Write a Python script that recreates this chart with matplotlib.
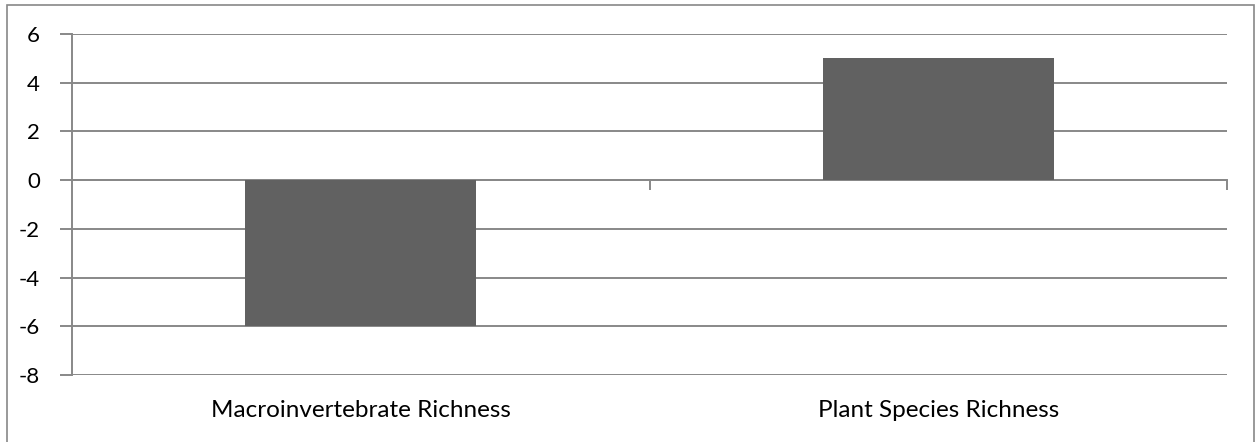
import matplotlib.pyplot as plt
from matplotlib.patches import Rectangle

categories = ['Macroinvertebrate Richness', 'Plant Species Richness']
values = [-6, 5]
yticks = [-8, -6, -4, -2, 0, 2, 4, 6]

plt.rcParams['font.family'] = ['Lato', 'DejaVu Sans']

fig = plt.figure(figsize=(12.55, 4.42), dpi=100)
ax = fig.add_axes([72 / 1255, 1 - 375 / 442, (1227 - 72) / 1255, (375 - 34) / 442])

grid_col = '#888888'
x = list(range(len(categories)))
ax.bar(x, values, width=0.4, color='#616161', zorder=3)

ax.set_xlim(-0.5, len(categories) - 0.5)
ax.set_ylim(-8, 6)
ax.set_yticks(yticks)
ax.set_yticklabels([str(v) for v in yticks], fontsize=16)
for v in yticks:
    ax.axhline(v, color=grid_col, lw=1.4, zorder=1)

# category axis crosses at zero
for s in ['top', 'right']:
    ax.spines[s].set_visible(False)
ax.spines['bottom'].set_position(('data', 0))
ax.spines['bottom'].set_color(grid_col)
ax.spines['bottom'].set_linewidth(1.4)
ax.spines['left'].set_color(grid_col)
ax.spines['left'].set_linewidth(1.4)
ax.set_xticks([i + 0.5 for i in x])
ax.set_xticklabels([])
ax.tick_params(axis='x', length=7, width=1.4, color=grid_col, direction='out')
ax.tick_params(axis='y', length=9, width=1.4, color=grid_col, pad=14)

for i, c in zip(x, categories):
    ax.text(i, -0.103, c, transform=ax.get_xaxis_transform(),
            ha='center', va='center', fontsize=17.5)

fig.patches.append(Rectangle((7 / 1255, -0.1), 1 - 8 / 1255, 1.1 - 5 / 442,
                             transform=fig.transFigure, fill=False,
                             edgecolor=grid_col, lw=1.2))

fig.savefig('out.png', dpi=100, facecolor='white')
